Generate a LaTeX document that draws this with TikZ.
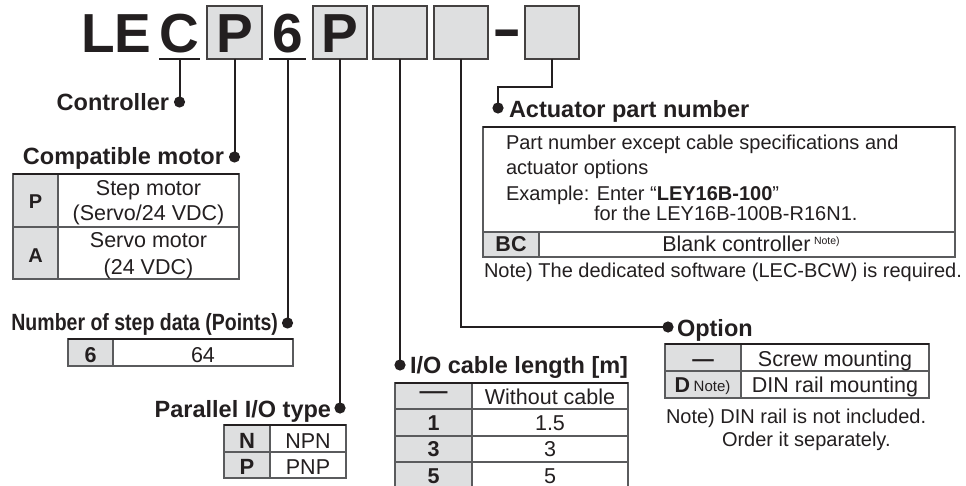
\documentclass[tikz,border=0pt]{standalone}
\usepackage{fontspec}
\setmainfont{Liberation Sans}
\usepackage{graphicx}
\definecolor{ink}{HTML}{231F20}
\definecolor{boxgray}{HTML}{DEDFE0}
\definecolor{gridgray}{HTML}{5A5B5D}
\newcommand{\mytitle}{\fontsize{55pt}{60pt}\selectfont\bfseries}
\newcommand{\myhead}{\fontsize{23.5pt}{28pt}\selectfont\bfseries}
\newcommand{\mytab}{\fontsize{21.5pt}{25pt}\selectfont}
\newcommand{\mytabb}{\fontsize{21.5pt}{25pt}\selectfont\bfseries}
\newcommand{\mynote}{\fontsize{20pt}{24pt}\selectfont}
\newcommand{\mysupa}{\fontsize{10.5pt}{12pt}\selectfont}
\newcommand{\mysupb}{\fontsize{15pt}{17pt}\selectfont}
\begin{document}
\begin{tikzpicture}[x=1pt,y=-1pt,
  every node/.style={inner sep=0pt, outer sep=0pt, text=ink},
  leader/.style={draw=ink, line width=2pt},
  ldot/.style={fill=ink},
  tbox/.style={draw=ink!85, fill=boxgray, line width=1.8pt, minimum width=54pt, minimum height=53pt},
  uline/.style={draw=ink, line width=1.6pt},
  tgrid/.style={draw=gridgray, line width=1.1pt},
  topline/.style={draw=ink, line width=2.2pt},
  tcell/.style={fill=boxgray},
  hd/.style={font=\myhead},
  tb/.style={font=\mytab, anchor=base},
  tbb/.style={font=\mytabb, anchor=base},
  tnote/.style={font=\mynote, anchor=base west},
  ttl/.style={font=\mytitle, anchor=base},
]
\useasboundingbox[fill=white] (0,0) rectangle (966,486);

% ---------- title ----------
\node[font=\mytitle, anchor=base west] (tLE) at (81,53) {LE};
\node[ttl] (tC) at (179.5,53) {C};
\draw[uline] (159,59) -- (200,59);
\coordinate (cu) at (179.5,59);
\node[tbox, minimum width=55pt] (b1) at (234.5,32.5) {};
\node[ttl] (tP1) at (234.5,53) {P};
\node[ttl] (t6) at (287.5,53) {6};
\draw[uline] (269,59) -- (306,59);
\coordinate (su) at (287.5,59);
\node[tbox] (b2) at (340,32.5) {};
\node[ttl] (tP2) at (340,53) {P};
\node[tbox] (b3) at (400,32.5) {};
\node[tbox] (b4) at (461,32.5) {};
\node[ttl] (tdash) at (507,48) {\scalebox{1.6}[1]{-}};
\node[tbox] (b5) at (552,32.5) {};

% ---------- dot positions ----------
\coordinate (dC) at (179.5,102);
\coordinate (dM) at (234.5,157);
\coordinate (dS) at (287.5,323);
\coordinate (dPar) at (340,408);
\coordinate (dIO) at (400,365);
\coordinate (dAct) at (498,108);
\coordinate (dOpt) at (668,327);
\coordinate (bend) at (498,87);

% ---------- leaders ----------
\draw[leader] (cu) -- (dC);
\draw[leader] (b1.south) -- (dM);
\draw[leader] (su) -- (dS);
\draw[leader] (b2.south) -- (dPar);
\draw[leader] (b3.south) -- (dIO);
\draw[leader] (b4.south) |- (dOpt);
\draw[leader] (b5.south) |- (bend) -- (dAct);
\foreach \d in {dC,dM,dS,dPar,dIO,dAct,dOpt}
  \fill[ldot] (\d) circle[radius=5.6pt];

% ---------- headings ----------
\node[hd, anchor=base east] (hC) at (169,111) {Controller};
\node[hd, anchor=base east] (hM) at (224,165) {Compatible motor};
\node[hd, anchor=base east] (hS) at (278,330) {\scalebox{0.83}[1]{Number of step data (Points)}};
\node[hd, anchor=base east] (hP) at (331,417) {Parallel I/O type};
\node[hd, anchor=base west] (hIO) at (410,373) {I/O cable length [m]};
\node[hd, anchor=base west] (hA) at (509,118) {Actuator part number};
\node[hd, anchor=base west] (hO) at (677,336) {Option};

% ---------- compatible motor table ----------
\fill[tcell] (13,174) rectangle (58,279);
\draw[tgrid] (13,174) rectangle (239,279) (58,174) -- (58,279) (13,227) -- (239,227);
\draw[topline] (13,174) -- (239,174);
\node[font=\fontsize{20pt}{24pt}\selectfont\bfseries, anchor=base] (mP) at (35.5,209) {P};
\node[font=\fontsize{20pt}{24pt}\selectfont\bfseries, anchor=base] (mA) at (35.5,263) {A};
\node[tb] (m1) at (148.5,196) {Step motor};
\node[tb] (m2) at (148.5,221) {(Servo/24 VDC)};
\node[tb] (m3) at (148.5,248) {Servo motor};
\node[tb] (m4) at (148.5,275) {(24 VDC)};

% ---------- step data table ----------
\fill[tcell] (68,339) rectangle (113,366);
\draw[tgrid] (68,339) rectangle (293,366) (113,339) -- (113,366);
\draw[topline] (68,339) -- (293,339);
\node[tbb] (s6) at (90.5,362) {6};
\node[tb] (s64) at (203,362) {64};

% ---------- parallel I/O table ----------
\fill[tcell] (224,425) rectangle (270,478);
\draw[tgrid] (224,425) rectangle (346,478) (270,425) -- (270,478) (224,452) -- (346,452);
\draw[topline] (224,425) -- (346,425);
\node[tbb, font=\fontsize{22pt}{25pt}\selectfont\bfseries] (pN) at (247,448) {N};
\node[tbb, font=\fontsize{22pt}{25pt}\selectfont\bfseries] (pP) at (247,474) {P};
\node[tb] (pNPN) at (308,448) {NPN};
\node[tb] (pPNP) at (308,474) {PNP};

% ---------- I/O cable table ----------
\fill[tcell] (395,383) rectangle (472,492);
\draw[tgrid] (395,492) -- (395,383) -- (628,383) -- (628,492)
  (472,383) -- (472,492) (395,409) -- (628,409) (395,436) -- (628,436) (395,462) -- (628,462);
\draw[topline] (395,383) -- (628,383);
\node[tbb] (c0) at (433.5,398) {\scalebox{1.3}[1]{\textemdash}};
\node[tb] (c0v) at (550,404) {Without cable};
\node[tbb] (c1) at (433.5,430) {1};
\node[tb] (c1v) at (550,430) {1.5};
\node[tbb] (c3) at (433.5,456) {3};
\node[tb] (c3v) at (550,456) {3};
\node[tbb] (c5) at (433.5,483) {5};
\node[tb] (c5v) at (550,483) {5};

% ---------- actuator part number box ----------
\fill[tcell] (483,232) rectangle (539,257);
\draw[tgrid] (483,127) rectangle (955,257) (483,232) -- (955,232) (539,232) -- (539,257);
\draw[topline] (483,127) -- (955,127);
\node[tnote] (a1) at (506,150) {Part number except cable specifications and};
\node[tnote] (a2) at (506,175) {actuator options};
\node[tnote] (a3) at (506,200.5) {Example: Enter “\textbf{LEY16B-100}”};
\node[tnote] (a4) at (594,221) {for the LEY16B-100B-R16N1.};
\node[tbb] (aBC) at (511,252) {BC};
\node[tb] (aBl) at (751,252) {Blank controller\,\raisebox{7pt}{\mysupa Note)}};
\node[tnote] (aN) at (484,277) {Note) The dedicated software (LEC-BCW) is required.};

% ---------- option table ----------
\fill[tcell] (665,344) rectangle (741,398);
\draw[tgrid] (665,344) rectangle (929,398) (741,344) -- (741,398) (665,371) -- (929,371);
\draw[topline] (665,344) -- (929,344);
\node[tbb] (o0) at (703,366) {\textemdash};
\node[tb] (o0v) at (835,366) {Screw mounting};
\node[tb] (oD) at (702.5,392) {\textbf{D}\,\raisebox{1pt}{\mysupb Note)}};
\node[tb] (oDv) at (835,392) {DIN rail mounting};
\node[tnote] (oN1) at (666,423) {Note) DIN rail is not included.};
\node[tnote] (oN2) at (722,446) {Order it separately.};
\end{tikzpicture}
\end{document}
